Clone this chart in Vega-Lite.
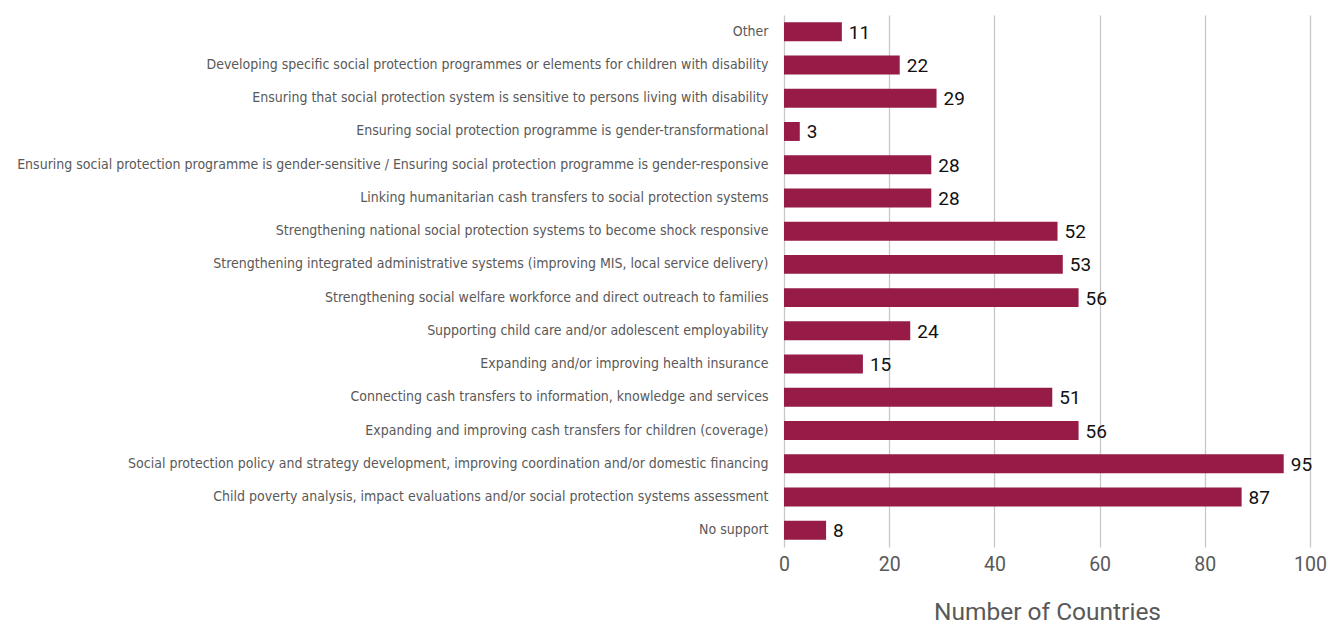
{
  "$schema": "https://vega.github.io/schema/vega-lite/v6.json",
  "autosize": "none",
  "width": 526,
  "height": 532,
  "padding": {"left": 784, "top": 15, "right": 18, "bottom": 80},
  "background": "white",
  "data": {"values": [
    {"category": "Other", "count": 11},
    {"category": "Developing specific social protection programmes or elements  for children with disability", "count": 22},
    {"category": "Ensuring that social protection system is sensitive to persons living with disability", "count": 29},
    {"category": "Ensuring social protection programme is gender-transformational", "count": 3},
    {"category": "Ensuring social protection programme is gender-sensitive /  Ensuring social protection programme is gender-responsive", "count": 28},
    {"category": "Linking humanitarian cash transfers to social protection systems", "count": 28},
    {"category": "Strengthening national social protection systems to become shock responsive", "count": 52},
    {"category": "Strengthening integrated administrative systems (improving MIS, local service delivery)", "count": 53},
    {"category": "Strengthening social welfare workforce and direct outreach to families", "count": 56},
    {"category": "Supporting child care and/or adolescent employability", "count": 24},
    {"category": "Expanding and/or improving health insurance", "count": 15},
    {"category": "Connecting cash transfers to information, knowledge and services", "count": 51},
    {"category": "Expanding and improving cash transfers for children (coverage)", "count": 56},
    {"category": "Social protection policy and strategy development, improving coordination and/or domestic financing", "count": 95},
    {"category": "Child poverty analysis, impact evaluations and/or social protection systems assessment", "count": 87},
    {"category": "No support", "count": 8}
  ]},
  "encoding": {
    "y": {
      "field": "category", "type": "nominal", "sort": null,
      "scale": {"paddingInner": 0.43, "paddingOuter": 0.22},
      "axis": {
        "title": null, "domain": false, "ticks": false, "grid": false,
        "labelFont": "DejaVu Sans Condensed", "labelFontSize": 14, "labelColor": "#595959",
        "labelLimit": 800, "labelPadding": 16
      }
    },
    "x": {
      "field": "count", "type": "quantitative",
      "scale": {"domain": [0, 100]},
      "axis": {
        "values": [0, 20, 40, 60, 80, 100],
        "title": "Number of Countries", "titleFont": "Roboto", "titleFontSize": 24.5, "titleFontWeight": "normal",
        "titleColor": "#595959", "titleY": 72, "titleBaseline": "alphabetic",
        "labelFont": "Roboto", "labelFontSize": 19.5, "labelColor": "#595959", "labelPadding": 8,
        "domain": false, "ticks": false,
        "grid": true, "gridColor": "#c8c8c8", "gridWidth": 1.3,
        "labelFlush": false
      }
    }
  },
  "layer": [
    {"mark": {"type": "bar", "color": "#961b47"}},
    {"mark": {"type": "text", "align": "left", "dx": 7, "font": "Roboto", "fontSize": 19, "color": "#111111", "baseline": "middle", "dy": 1},
     "encoding": {"text": {"field": "count", "type": "quantitative"}}}
  ],
  "config": {"view": {"stroke": null}}
}
